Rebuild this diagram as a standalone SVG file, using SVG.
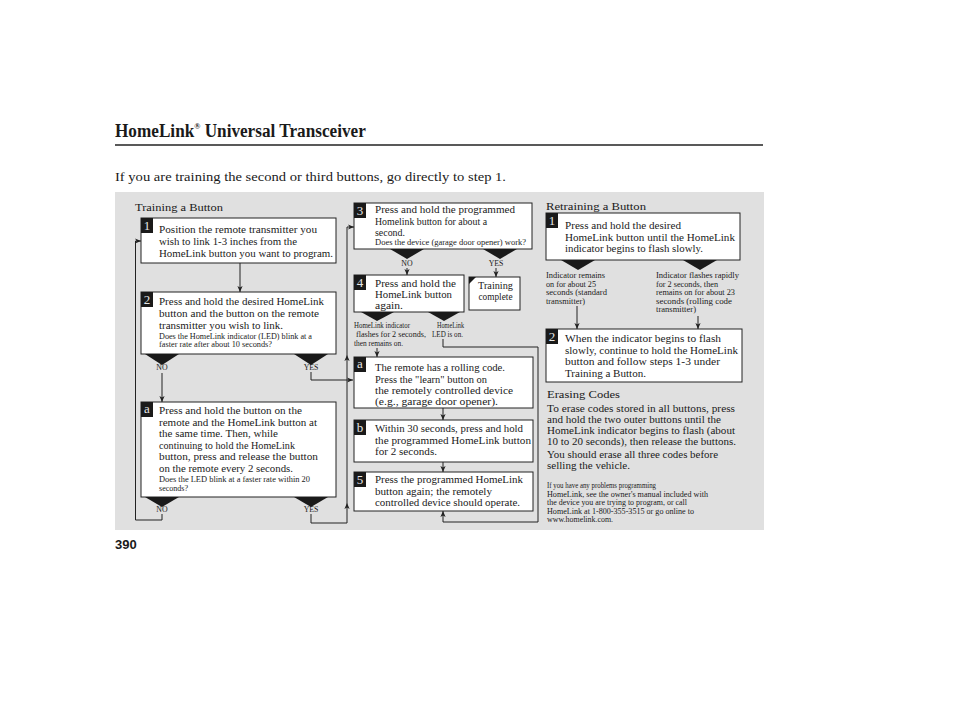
<svg xmlns="http://www.w3.org/2000/svg" width="954" height="710" viewBox="0 0 954 710">
<style>
text{font-family:"Liberation Serif","Times New Roman",serif;fill:#1a1a1a}
.b{font-size:10.5px}
.s{font-size:7.8px}
.h{font-size:10.8px}
.box{fill:#fff;stroke:#222;stroke-width:1}
.tri{fill:#1a1a1a}
.bd{fill:#1a1a1a}
.n{font-size:13px;fill:#e6e6e6;text-anchor:middle}
.m{text-anchor:middle}
.c{fill:none;stroke:#222;stroke-width:1}
</style>
<defs>
<marker id="ah" viewBox="0 0 6 6" markerWidth="6" markerHeight="6" refX="6" refY="3" orient="auto" markerUnits="userSpaceOnUse">
<path d="M0,0.4 L6,3 L0,5.6 L1.6,3 z" fill="#222"/>
</marker>
</defs>
<rect width="954" height="710" fill="#fff"/>
<g id="header">
<text transform="translate(115,137) scale(0.905,1)" x="0" y="0" style="font-size:19px;font-weight:bold">HomeLink<tspan style="font-size:9px" dy="-8">®</tspan><tspan dy="8"> Universal Transceiver</tspan></text>
<line x1="115" y1="145" x2="763" y2="145" stroke="#222" stroke-width="1.3"/>
<text x="115" y="181" style="font-size:12.5px" textLength="391" lengthAdjust="spacingAndGlyphs">If you are training the second or third buttons, go directly to step 1.</text>
</g>
<rect id="panel" x="115" y="192" width="649" height="338" fill="#e0e0e0"/>
<text x="115" y="549" style="font-family:'Liberation Sans',Arial,sans-serif;font-size:13px;font-weight:bold">390</text>

<text class="h" x="135" y="211" textLength="88" lengthAdjust="spacingAndGlyphs">Training a Button</text>
<text class="h" x="546" y="210" textLength="100" lengthAdjust="spacingAndGlyphs">Retraining a Button</text>

<g id="connectors">
<path class="c" d="M240,263 V292" marker-end="url(#ah)"/>
<path class="c" d="M162,373 V402" marker-end="url(#ah)"/>
<path class="c" d="M162,514 V520 H135.5 V241 H141" marker-end="url(#ah)"/>
<path class="c" d="M311,372 V380 H353" marker-end="url(#ah)"/>
<path class="c" d="M311,514 V523 H347 V503" marker-end="url(#ah)"/>
<path class="c" d="M347,503 V355" marker-end="url(#ah)"/>
<path class="c" d="M347,355 V227 H354" marker-end="url(#ah)"/>
<path class="c" d="M407,268 V275" marker-end="url(#ah)"/>
<path class="c" d="M496,268 V277" marker-end="url(#ah)"/>
<path class="c" d="M377,348 V357" marker-end="url(#ah)"/>
<path class="c" d="M443,339 V347 H538 V522 H443 V511" marker-end="url(#ah)"/>
<path class="c" d="M443,408 V420" marker-end="url(#ah)"/>
<path class="c" d="M443,462 V472" marker-end="url(#ah)"/>
<path class="c" d="M577,306 V329" marker-end="url(#ah)"/>
<path class="c" d="M698,316 V329" marker-end="url(#ah)"/>
</g>

<g id="t1">
<rect class="box" x="141" y="218" width="195" height="45"/>
<rect class="bd" x="141" y="218" width="12" height="15"/>
<text class="n" x="147" y="230">1</text>
<text class="b" x="159" y="233" textLength="158" lengthAdjust="spacingAndGlyphs">Position the remote transmitter you</text>
<text class="b" x="159" y="245" textLength="138" lengthAdjust="spacingAndGlyphs">wish to link 1-3 inches from the</text>
<text class="b" x="159" y="257" textLength="174" lengthAdjust="spacingAndGlyphs">HomeLink button you want to program.</text>
</g>

<g id="t2">
<rect class="box" x="141" y="292" width="195" height="62"/>
<rect class="bd" x="141" y="292" width="12" height="15"/>
<text class="n" x="147" y="304">2</text>
<text class="b" x="159" y="305" textLength="165" lengthAdjust="spacingAndGlyphs">Press and hold the desired HomeLink</text>
<text class="b" x="159" y="317" textLength="160" lengthAdjust="spacingAndGlyphs">button and the button on the remote</text>
<text class="b" x="159" y="328.5" textLength="124" lengthAdjust="spacingAndGlyphs">transmitter you wish to link.</text>
<text class="s" x="159" y="338.5" textLength="153" lengthAdjust="spacingAndGlyphs">Does the HomeLink indicator (LED) blink at a</text>
<text class="s" x="159" y="347" textLength="113" lengthAdjust="spacingAndGlyphs">faster rate after about 10 seconds?</text>
<polygon class="tri" points="145,354 179,354 162,365"/>
<polygon class="tri" points="294,354 328,354 311,365"/>
<text class="s m" x="162" y="370">NO</text>
<text class="s m" x="311" y="370">YES</text>
</g>

<g id="ta">
<rect class="box" x="141" y="402" width="195" height="95"/>
<rect class="bd" x="141" y="402" width="12" height="15"/>
<text class="n" x="147" y="413">a</text>
<text class="b" x="159" y="414" textLength="143" lengthAdjust="spacingAndGlyphs">Press and hold the button on the</text>
<text class="b" x="159" y="425.5" textLength="158" lengthAdjust="spacingAndGlyphs">remote and the HomeLink button at</text>
<text class="b" x="159" y="437" textLength="119" lengthAdjust="spacingAndGlyphs">the same time. Then, while</text>
<text class="b" x="159" y="448.5" textLength="136" lengthAdjust="spacingAndGlyphs">continuing to hold the HomeLink</text>
<text class="b" x="159" y="460" textLength="159" lengthAdjust="spacingAndGlyphs">button, press and release the button</text>
<text class="b" x="159" y="471.5" textLength="134" lengthAdjust="spacingAndGlyphs">on the remote every 2 seconds.</text>
<text class="s" x="159" y="482" textLength="151" lengthAdjust="spacingAndGlyphs">Does the LED blink at a faster rate within 20</text>
<text class="s" x="159" y="490.5" textLength="29" lengthAdjust="spacingAndGlyphs">seconds?</text>
<polygon class="tri" points="145,497 179,497 162,507"/>
<polygon class="tri" points="294,497 328,497 311,507"/>
<text class="s m" x="162" y="512">NO</text>
<text class="s m" x="311" y="512">YES</text>
</g>

<g id="t3">
<rect class="box" x="354" y="203" width="178" height="46"/>
<rect class="bd" x="354" y="203" width="12" height="15"/>
<text class="n" x="360" y="215">3</text>
<text class="b" x="375" y="213" textLength="140" lengthAdjust="spacingAndGlyphs">Press and hold the programmed</text>
<text class="b" x="375" y="224.5" textLength="112" lengthAdjust="spacingAndGlyphs">Homelink button for about a</text>
<text class="b" x="375" y="235.5" textLength="30" lengthAdjust="spacingAndGlyphs">second.</text>
<text class="s" x="375" y="244.5" textLength="151" lengthAdjust="spacingAndGlyphs">Does the device (garage door opener) work?</text>
<polygon class="tri" points="390,249 424,249 407,259"/>
<polygon class="tri" points="483,249 517,249 500,259"/>
<text class="s m" x="407" y="266">NO</text>
<text class="s m" x="496" y="266">YES</text>
</g>

<g id="t4">
<rect class="box" x="354" y="275" width="110" height="37"/>
<rect class="bd" x="354" y="275" width="12" height="15"/>
<text class="n" x="360" y="287">4</text>
<text class="b" x="375" y="287" textLength="81" lengthAdjust="spacingAndGlyphs">Press and hold the</text>
<text class="b" x="375" y="298" textLength="77" lengthAdjust="spacingAndGlyphs">HomeLink button</text>
<text class="b" x="375" y="309" textLength="28" lengthAdjust="spacingAndGlyphs">again.</text>
<polygon class="tri" points="361,312 394,312 377,321"/>
<polygon class="tri" points="428,312 460,312 444,321"/>
<text class="s" x="354" y="328" textLength="56" lengthAdjust="spacingAndGlyphs">HomeLink indicator</text>
<text class="s" x="356" y="337" textLength="70" lengthAdjust="spacingAndGlyphs">flashes for 2 seconds,</text>
<text class="s" x="354" y="345.5" textLength="49" lengthAdjust="spacingAndGlyphs">then remains on.</text>
<text class="s" x="437" y="328" textLength="27" lengthAdjust="spacingAndGlyphs">HomeLink</text>
<text class="s" x="432" y="337" textLength="31" lengthAdjust="spacingAndGlyphs">LED is on.</text>
</g>

<g id="tdone">
<rect class="box" x="469" y="277" width="51" height="33"/>
<polygon class="tri" points="469,277 476,277 469,284"/>
<text class="b m" x="495.5" y="288.5" textLength="35" lengthAdjust="spacingAndGlyphs">Training</text>
<text class="b m" x="495.5" y="300" textLength="34" lengthAdjust="spacingAndGlyphs">complete</text>
</g>

<g id="tma">
<rect class="box" x="354" y="357" width="179" height="51"/>
<rect class="bd" x="354" y="357" width="12" height="15"/>
<text class="n" x="360" y="368">a</text>
<text class="b" x="375" y="371" textLength="130" lengthAdjust="spacingAndGlyphs">The remote has a rolling code.</text>
<text class="b" x="375" y="382.5" textLength="112" lengthAdjust="spacingAndGlyphs">Press the "learn" button on</text>
<text class="b" x="375" y="393.5" textLength="138" lengthAdjust="spacingAndGlyphs">the remotely controlled device</text>
<text class="b" x="375" y="404.5" textLength="123" lengthAdjust="spacingAndGlyphs">(e.g., garage door opener).</text>
</g>

<g id="tmb">
<rect class="box" x="354" y="420" width="179" height="42"/>
<rect class="bd" x="354" y="420" width="12" height="15"/>
<text class="n" x="360" y="432">b</text>
<text class="b" x="375" y="432" textLength="148" lengthAdjust="spacingAndGlyphs">Within 30 seconds, press and hold</text>
<text class="b" x="375" y="443.5" textLength="156" lengthAdjust="spacingAndGlyphs">the programmed HomeLink button</text>
<text class="b" x="375" y="455" textLength="62" lengthAdjust="spacingAndGlyphs">for 2 seconds.</text>
</g>

<g id="t5">
<rect class="box" x="354" y="472" width="179" height="39"/>
<rect class="bd" x="354" y="472" width="12" height="15"/>
<text class="n" x="360" y="484">5</text>
<text class="b" x="375" y="483" textLength="148" lengthAdjust="spacingAndGlyphs">Press the programmed HomeLink</text>
<text class="b" x="375" y="494.5" textLength="117" lengthAdjust="spacingAndGlyphs">button again; the remotely</text>
<text class="b" x="375" y="505.5" textLength="145" lengthAdjust="spacingAndGlyphs">controlled device should operate.</text>
</g>

<g id="r1">
<rect class="box" x="546" y="213" width="194" height="47"/>
<rect class="bd" x="546" y="213" width="12" height="15"/>
<text class="n" x="552" y="225">1</text>
<text class="b" x="565" y="228.5" textLength="116" lengthAdjust="spacingAndGlyphs">Press and hold the desired</text>
<text class="b" x="565" y="240.5" textLength="170" lengthAdjust="spacingAndGlyphs">HomeLink button until the HomeLink</text>
<text class="b" x="565" y="252" textLength="138" lengthAdjust="spacingAndGlyphs">indicator begins to flash slowly.</text>
<polygon class="tri" points="561,260 595,260 578,270"/>
<polygon class="tri" points="683,260 717,260 700,270"/>
<text class="s" x="546" y="278" textLength="59" lengthAdjust="spacingAndGlyphs">Indicator remains</text>
<text class="s" x="546" y="286.5" textLength="50" lengthAdjust="spacingAndGlyphs">on for about 25</text>
<text class="s" x="546" y="295" textLength="61" lengthAdjust="spacingAndGlyphs">seconds (standard</text>
<text class="s" x="546" y="303.5" textLength="39" lengthAdjust="spacingAndGlyphs">transmitter)</text>
<text class="s" x="656" y="278" textLength="83" lengthAdjust="spacingAndGlyphs">Indicator  flashes rapidly</text>
<text class="s" x="656" y="286.5" textLength="62" lengthAdjust="spacingAndGlyphs">for 2 seconds, then</text>
<text class="s" x="656" y="295" textLength="79" lengthAdjust="spacingAndGlyphs">remains on for about 23</text>
<text class="s" x="656" y="303.5" textLength="76" lengthAdjust="spacingAndGlyphs">seconds (rolling code</text>
<text class="s" x="656" y="312" textLength="40" lengthAdjust="spacingAndGlyphs">transmitter)</text>
</g>

<g id="r2">
<rect class="box" x="546" y="329" width="196" height="53"/>
<rect class="bd" x="546" y="329" width="12" height="15"/>
<text class="n" x="552" y="341">2</text>
<text class="b" x="565" y="342" textLength="156" lengthAdjust="spacingAndGlyphs">When the indicator begins to flash</text>
<text class="b" x="565" y="353.5" textLength="173" lengthAdjust="spacingAndGlyphs">slowly, continue to hold the HomeLink</text>
<text class="b" x="565" y="365" textLength="155" lengthAdjust="spacingAndGlyphs">button and follow steps 1-3 under</text>
<text class="b" x="565" y="376.5" textLength="81" lengthAdjust="spacingAndGlyphs">Training a Button.</text>
</g>

<g id="erase">
<text class="h" x="547" y="398" textLength="73" lengthAdjust="spacingAndGlyphs">Erasing Codes</text>
<text class="b" x="547" y="412" textLength="188" lengthAdjust="spacingAndGlyphs">To erase codes stored in all buttons, press</text>
<text class="b" x="547" y="423" textLength="174" lengthAdjust="spacingAndGlyphs">and hold the two outer buttons until the</text>
<text class="b" x="547" y="434" textLength="188" lengthAdjust="spacingAndGlyphs">HomeLink indicator begins to flash (about</text>
<text class="b" x="547" y="445" textLength="189" lengthAdjust="spacingAndGlyphs">10 to 20 seconds), then release the buttons.</text>
<text class="b" x="547" y="457.5" textLength="171" lengthAdjust="spacingAndGlyphs">You should erase all three codes before</text>
<text class="b" x="547" y="469" textLength="83" lengthAdjust="spacingAndGlyphs">selling the vehicle.</text>
<text class="s" x="547" y="488" textLength="109" lengthAdjust="spacingAndGlyphs">If you have any problems programming</text>
<text class="s" x="547" y="496.5" textLength="161" lengthAdjust="spacingAndGlyphs">HomeLink, see the owner's manual included with</text>
<text class="s" x="547" y="505" textLength="140" lengthAdjust="spacingAndGlyphs">the device you are trying to program, or call</text>
<text class="s" x="547" y="513.5" textLength="147" lengthAdjust="spacingAndGlyphs">HomeLink at 1-800-355-3515 or go online to</text>
<text class="s" x="547" y="522" textLength="66" lengthAdjust="spacingAndGlyphs">www.homelink.com.</text>
</g>
</svg>
